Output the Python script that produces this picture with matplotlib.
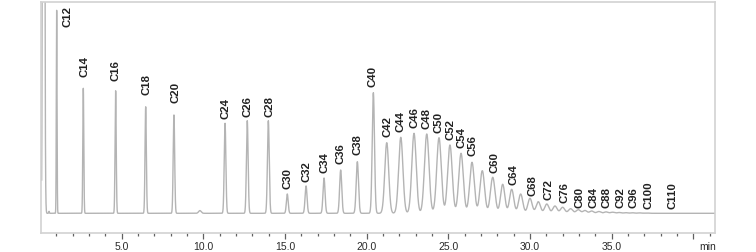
import numpy as np
import matplotlib
matplotlib.use("Agg")
import matplotlib.pyplot as plt
from matplotlib.ticker import FixedLocator, FixedFormatter, MultipleLocator

plt.rcParams['font.family'] = ['Liberation Sans', 'DejaVu Sans']

# ---------------- data ----------------
# retention time (min), apparent height (signal units), peak width sigma (min)
peak_times = [0.22, 0.33, 0.55, 1.02, 2.65, 4.63, 6.47, 8.20, 9.79, 11.33, 12.69, 13.98,
              15.14, 16.29, 17.39, 18.41, 19.43, 20.41,
              21.23, 22.09, 22.90, 23.68, 24.43, 25.10, 25.78, 26.45, 27.08, 27.72,
              28.33, 28.88, 29.43, 30.00, 30.51, 31.03, 31.53, 32.00, 32.49, 32.96,
              33.37, 33.78, 34.22, 34.66, 35.06, 35.47, 35.88, 36.29, 36.72, 37.15]
peak_heights = [3000, 15, 2, 203, 125, 122.5, 106.5, 98.3, 2.7, 90, 92.6, 92.6,
                19.3, 27.3, 35.3, 43.3, 51.6, 120.6,
                70.6, 76, 80, 79.3, 75.6, 68.3, 60, 51, 42.6, 36,
                29, 24, 19.3, 15, 11.6, 9.3, 7.3, 6, 4.6, 3.6,
                2.8, 2.3, 1.8, 1.4, 1.1, 0.8, 0.6, 0.5, 0.4, 0.3]
peak_sigmas = [0.04, 0.03, 0.02, 0.022, 0.03, 0.035, 0.04, 0.045, 0.08, 0.05, 0.052, 0.055,
               0.055, 0.06, 0.062, 0.065, 0.07, 0.07,
               0.12, 0.13, 0.135, 0.14, 0.14, 0.14, 0.14, 0.14, 0.14, 0.14,
               0.13, 0.13, 0.13, 0.13, 0.13, 0.13, 0.13, 0.13, 0.13, 0.13,
               0.12, 0.12, 0.12, 0.12, 0.12, 0.12, 0.12, 0.12, 0.12, 0.12]

label_names = ['C12', 'C14', 'C16', 'C18', 'C20', 'C24', 'C26', 'C28', 'C30', 'C32',
               'C34', 'C36', 'C38', 'C40', 'C42', 'C44', 'C46', 'C48', 'C50', 'C52',
               'C54', 'C56', 'C60', 'C64', 'C68', 'C72', 'C76', 'C80', 'C84', 'C88',
               'C92', 'C96', 'C100', 'C110']
# label anchor (time, bottom of text) - layout
label_x = [1.69, 2.71, 4.65, 6.53, 8.31, 11.33, 12.71, 14.08, 15.17, 16.29,
           17.39, 18.41, 19.43, 20.37, 21.26, 22.09, 22.90, 23.68, 24.43, 25.15,
           25.82, 26.49, 27.82, 28.98, 30.14, 31.12, 32.09, 33.06, 33.88, 34.70,
           35.56, 36.37, 37.25, 38.74]
label_y = [186.6, 136, 132, 118, 110, 94, 96.6, 96.6, 24, 31.6,
           40.6, 49.3, 58.3, 126, 76.6, 81.6, 85, 84, 80.6, 73.3,
           65, 57.3, 40, 28.3, 17.3, 13.3, 10.6, 5, 5, 5,
           5, 5, 4, 4]

tick_values = [5, 10, 15, 20, 25, 30, 35, 40]
tick_labels = ['5.0', '10.0', '15.0', '20.0', '25.0', '30.0', '35.0', '']

# ---------------- signal ----------------
t = np.linspace(0.1, 41.4, 60000)
signal = np.zeros_like(t)
for t0, h, s in zip(peak_times, peak_heights, peak_sigmas):
    signal += h * np.exp(-0.5 * ((t - t0) / s) ** 2)

# ---------------- figure ----------------
fig = plt.figure(figsize=(7.56, 2.52), dpi=100)
ax = fig.add_axes([41 / 756, 1 - 232.7 / 252, (715 - 41) / 756, (232.7 - 1.7) / 252])

ax.plot(t, signal, color='#b4b4b4', lw=1.0)
ax.set_xlim(0.06, 41.33)
ax.set_ylim(-19.4, 211.6)

for name, x, y in zip(label_names, label_x, label_y):
    ax.text(x, y, name, rotation=90, ha='center', va='bottom',
            fontsize=8.2, fontweight='bold', color='#222222')

for sp in ax.spines.values():
    sp.set_color('#d2d2d2')
    sp.set_linewidth(1.2)

ax.set_yticks([])
ax.xaxis.set_major_locator(FixedLocator(tick_values))
ax.xaxis.set_major_formatter(FixedFormatter(tick_labels))
ax.xaxis.set_minor_locator(MultipleLocator(1))
ax.tick_params(axis='x', which='major', direction='out', length=4.5, width=0.9,
               color='#606060', labelsize=7.5, labelcolor='#2a2a2a', pad=2.5)
ax.tick_params(axis='x', which='minor', direction='out', length=1.8, width=0.9,
               color='#606060')

ax.text(40.85, -0.062, 'min', transform=ax.get_xaxis_transform(),
        ha='center', va='center', fontsize=7.5, color='#2a2a2a')

fig.savefig('out.png', dpi=100)
